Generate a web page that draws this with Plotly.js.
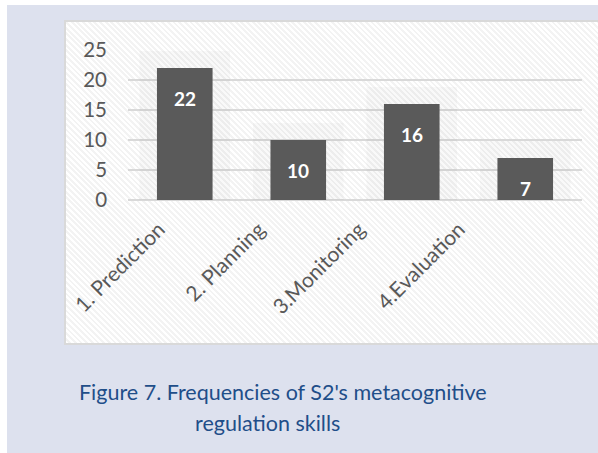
<!DOCTYPE html>
<html>
<head>
<meta charset="utf-8">
<script src="https://cdn.plot.ly/plotly-3.0.1.min.js"></script>
<style>
  html, body { margin: 0; padding: 0; background: #ffffff; width: 598px; height: 453px; overflow: hidden; }
  #bg { position: absolute; left: 7px; top: 5px; width: 591px; height: 448px; background: #dde1ee; }
  #box { position: absolute; left: 64px; top: 20px; width: 560px; height: 325px;
         border: 2px solid #d9d9d9; box-sizing: border-box;
         background: repeating-linear-gradient(45deg, #ffffff 0px, #ffffff 2px, #f3f3f3 2px, #f3f3f3 4px); }
  #chart { position: absolute; left: 0; top: 0; width: 598px; height: 453px; }
</style>
</head>
<body>
<div id="bg"></div>
<div id="box"></div>
<div id="chart"></div>
<script>
const categories = ["1. Prediction", "2. Planning", "3.Monitoring", "4.Evaluation"];
const frequencies = [22, 10, 16, 7];
const yTicks = [0, 5, 10, 15, 20, 25];
const captionLine1 = "Figure 7. Frequencies of S2's metacognitive";
const captionLine2 = "regulation skills";

const font = "Lato, 'Open Sans', sans-serif";

const glow = {
  type: "bar", x: categories, y: frequencies, xaxis: "x", yaxis: "y",
  width: 0.5,
  marker: { color: "rgba(0,0,0,0)", line: { color: "rgba(0,0,0,0.025)", width: 34 } },
  hoverinfo: "skip", showlegend: false
};
const bars = {
  type: "bar", x: categories, y: frequencies, xaxis: "x", yaxis: "y",
  width: 0.49,
  marker: { color: "#5a5a5a", line: { width: 0 } },
  hoverinfo: "x+y", showlegend: false
};
const labelsTrace = {
  type: "scatter", mode: "markers", x: categories, y: frequencies.map(() => 0),
  xaxis: "x2", yaxis: "y2", marker: { opacity: 0 }, hoverinfo: "skip", showlegend: false
};

const annotations = frequencies.map((v, i) => ({
  x: categories[i], y: v, xref: "x", yref: "y",
  text: "<b>" + v + "</b>", showarrow: false,
  yanchor: "top", yshift: -17,
  font: { family: font, size: 19, color: "#ffffff" }
}));
annotations.push({
  text: captionLine1, xref: "paper", yref: "paper", x: 0.427, y: -1.28,
  xanchor: "center", yanchor: "middle",
  showarrow: false, font: { family: font, size: 21.5, color: "#1f4e89" }
});
annotations.push({
  text: captionLine2, xref: "paper", yref: "paper", x: 0.397, y: -1.487,
  xanchor: "center", yanchor: "middle",
  showarrow: false, font: { family: font, size: 21.5, color: "#1f4e89" }
});

const layout = {
  width: 598, height: 453,
  margin: { l: 60, r: 16, t: 50, b: 253 },
  paper_bgcolor: "rgba(0,0,0,0)", plot_bgcolor: "rgba(0,0,0,0)",
  barmode: "overlay",
  xaxis: {
    domain: [0.1303, 1], type: "category", range: [-0.5, 3.5],
    showticklabels: false, showgrid: false, zeroline: false, showline: false, ticks: ""
  },
  xaxis2: {
    domain: [0.0938, 0.860], type: "category", range: [-0.5, 3.5],
    anchor: "y2", side: "bottom",
    tickangle: -45, showgrid: false, zeroline: false, showline: false, ticks: "",
    ticklabelstandoff: 12,
    tickfont: { family: font, size: 21, color: "#595959" }
  },
  yaxis: {
    range: [0, 25], tickvals: yTicks, ticktext: yTicks.map(String),
    anchor: "free", position: 0.1303,
    showgrid: true, gridcolor: "#d9d9d9", gridwidth: 1.5,
    zeroline: true, zerolinecolor: "#d9d9d9", zerolinewidth: 1.5,
    showline: false, ticks: "", ticklabelstandoff: 21,
    tickfont: { family: font, size: 20.5, color: "#595959" }
  },
  yaxis2: {
    range: [0, 25], anchor: "x2", domain: [0, 1],
    showgrid: false, zeroline: false, showline: false, showticklabels: false, ticks: ""
  },
  annotations: annotations,
  showlegend: false
};

Plotly.newPlot("chart", [glow, bars, labelsTrace], layout, { displayModeBar: false, staticPlot: true });
</script>
</body>
</html>
